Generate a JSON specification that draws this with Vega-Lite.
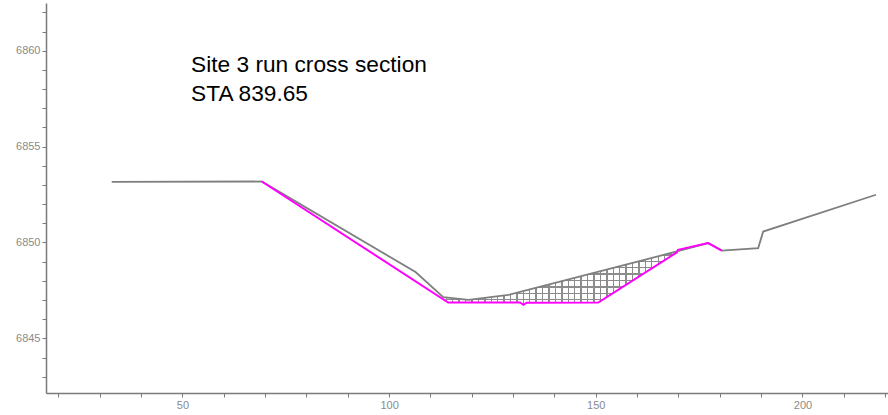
{
  "$schema": "https://vega.github.io/schema/vega-lite/v6.json",
  "width": 842,
  "height": 390,
  "autosize": {"type": "none"},
  "padding": {"left": 46, "top": 3, "right": 0, "bottom": 22},
  "background": "white",
  "config": {
    "view": {"stroke": null},
    "axis": {
      "grid": false,
      "domainColor": "#7a7a7a",
      "domainWidth": 1.5,
      "tickColor": "#7a7a7a",
      "tickWidth": 1,
      "tickSize": 4,
      "labelColor": "#8a8a8a",
      "labelFont": "Liberation Sans",
      "labelFontSize": 11,
      "labelPadding": 2,
      "title": null
    }
  },
  "datasets": {
    "ground": [
      {"station": 32.9, "elev": 6853.16},
      {"station": 69.2, "elev": 6853.18},
      {"station": 106.4, "elev": 6848.46},
      {"station": 113.1, "elev": 6847.15},
      {"station": 119.2, "elev": 6847.01},
      {"station": 128.9, "elev": 6847.27},
      {"station": 169.6, "elev": 6849.53},
      {"station": 177.2, "elev": 6849.97},
      {"station": 180.5, "elev": 6849.58},
      {"station": 189.3, "elev": 6849.71},
      {"station": 190.5, "elev": 6850.57},
      {"station": 217.8, "elev": 6852.49}
    ],
    "design": [
      {"station": 69.2, "elev": 6853.18},
      {"station": 114.3, "elev": 6846.87},
      {"station": 131.7, "elev": 6846.87},
      {"station": 132.5, "elev": 6846.75},
      {"station": 133.3, "elev": 6846.86},
      {"station": 150.6, "elev": 6846.87},
      {"station": 169.6, "elev": 6849.48},
      {"station": 169.9, "elev": 6849.62},
      {"station": 177.2, "elev": 6849.97},
      {"station": 180.5, "elev": 6849.58}
    ],
    "fill": [
      {"i": 1, "station": 113.1, "elev": 6847.15},
      {"i": 2, "station": 119.2, "elev": 6847.01},
      {"i": 3, "station": 128.9, "elev": 6847.27},
      {"i": 4, "station": 169.6, "elev": 6849.53},
      {"i": 5, "station": 169.6, "elev": 6849.48},
      {"i": 6, "station": 150.6, "elev": 6846.87},
      {"i": 7, "station": 133.3, "elev": 6846.86},
      {"i": 8, "station": 132.5, "elev": 6846.75},
      {"i": 9, "station": 131.7, "elev": 6846.87},
      {"i": 10, "station": 114.3, "elev": 6846.87}
    ],
    "label": [
      {"station": 52.1, "elev": 6858.87}
    ]
  },
  "encoding": {
    "x": {
      "field": "station", "type": "quantitative",
      "scale": {"domain": [17.0, 220.7], "nice": false, "zero": false},
      "axis": {
        "values": [20,30,40,50,60,70,80,90,100,110,120,130,140,150,160,170,180,190,200,210,220],
        "format": "d",
        "labelExpr": "datum.value % 50 === 0 ? datum.label : ''",
        "labelOverlap": false,
        "labelFlush": false
      }
    },
    "y": {
      "field": "elev", "type": "quantitative",
      "scale": {"domain": [6842.15, 6862.49], "nice": false, "zero": false},
      "axis": {
        "values": [6843,6844,6845,6846,6847,6848,6849,6850,6851,6852,6853,6854,6855,6856,6857,6858,6859,6860,6861,6862],
        "format": "d",
        "labelExpr": "datum.value % 5 === 0 ? datum.label : ''",
        "labelOverlap": false,
        "labelFlush": false
      }
    }
  },
  "layer": [
    {
      "data": {"name": "fill"},
      "mark": {
        "type": "line",
        "interpolate": "linear-closed",
        "strokeWidth": 0,
        "fill": {
          "gradient": "linear", "x1": 0, "y1": 0, "x2": 1, "y2": 0,
          "stops": [
            {"offset": 0, "color": "rgba(140,140,140,0)"},
            {"offset": 0.01, "color": "rgba(140,140,140,0)"}, {"offset": 0.01, "color": "#8c8c8c"}, {"offset": 0.016, "color": "#8c8c8c"}, {"offset": 0.016, "color": "rgba(140,140,140,0)"},
            {"offset": 0.0375, "color": "rgba(140,140,140,0)"}, {"offset": 0.0375, "color": "#8c8c8c"}, {"offset": 0.0435, "color": "#8c8c8c"}, {"offset": 0.0435, "color": "rgba(140,140,140,0)"},
            {"offset": 0.065, "color": "rgba(140,140,140,0)"}, {"offset": 0.065, "color": "#8c8c8c"}, {"offset": 0.071, "color": "#8c8c8c"}, {"offset": 0.071, "color": "rgba(140,140,140,0)"},
            {"offset": 0.0925, "color": "rgba(140,140,140,0)"}, {"offset": 0.0925, "color": "#8c8c8c"}, {"offset": 0.0985, "color": "#8c8c8c"}, {"offset": 0.0985, "color": "rgba(140,140,140,0)"},
            {"offset": 0.12, "color": "rgba(140,140,140,0)"}, {"offset": 0.12, "color": "#8c8c8c"}, {"offset": 0.126, "color": "#8c8c8c"}, {"offset": 0.126, "color": "rgba(140,140,140,0)"},
            {"offset": 0.1475, "color": "rgba(140,140,140,0)"}, {"offset": 0.1475, "color": "#8c8c8c"}, {"offset": 0.1535, "color": "#8c8c8c"}, {"offset": 0.1535, "color": "rgba(140,140,140,0)"},
            {"offset": 0.175, "color": "rgba(140,140,140,0)"}, {"offset": 0.175, "color": "#8c8c8c"}, {"offset": 0.181, "color": "#8c8c8c"}, {"offset": 0.181, "color": "rgba(140,140,140,0)"},
            {"offset": 0.2025, "color": "rgba(140,140,140,0)"}, {"offset": 0.2025, "color": "#8c8c8c"}, {"offset": 0.2085, "color": "#8c8c8c"}, {"offset": 0.2085, "color": "rgba(140,140,140,0)"},
            {"offset": 0.23, "color": "rgba(140,140,140,0)"}, {"offset": 0.23, "color": "#8c8c8c"}, {"offset": 0.236, "color": "#8c8c8c"}, {"offset": 0.236, "color": "rgba(140,140,140,0)"},
            {"offset": 0.2575, "color": "rgba(140,140,140,0)"}, {"offset": 0.2575, "color": "#8c8c8c"}, {"offset": 0.2635, "color": "#8c8c8c"}, {"offset": 0.2635, "color": "rgba(140,140,140,0)"},
            {"offset": 0.285, "color": "rgba(140,140,140,0)"}, {"offset": 0.285, "color": "#8c8c8c"}, {"offset": 0.291, "color": "#8c8c8c"}, {"offset": 0.291, "color": "rgba(140,140,140,0)"},
            {"offset": 0.3125, "color": "rgba(140,140,140,0)"}, {"offset": 0.3125, "color": "#8c8c8c"}, {"offset": 0.3185, "color": "#8c8c8c"}, {"offset": 0.3185, "color": "rgba(140,140,140,0)"},
            {"offset": 0.34, "color": "rgba(140,140,140,0)"}, {"offset": 0.34, "color": "#8c8c8c"}, {"offset": 0.346, "color": "#8c8c8c"}, {"offset": 0.346, "color": "rgba(140,140,140,0)"},
            {"offset": 0.3675, "color": "rgba(140,140,140,0)"}, {"offset": 0.3675, "color": "#8c8c8c"}, {"offset": 0.3735, "color": "#8c8c8c"}, {"offset": 0.3735, "color": "rgba(140,140,140,0)"},
            {"offset": 0.395, "color": "rgba(140,140,140,0)"}, {"offset": 0.395, "color": "#8c8c8c"}, {"offset": 0.401, "color": "#8c8c8c"}, {"offset": 0.401, "color": "rgba(140,140,140,0)"},
            {"offset": 0.4225, "color": "rgba(140,140,140,0)"}, {"offset": 0.4225, "color": "#8c8c8c"}, {"offset": 0.4285, "color": "#8c8c8c"}, {"offset": 0.4285, "color": "rgba(140,140,140,0)"},
            {"offset": 0.45, "color": "rgba(140,140,140,0)"}, {"offset": 0.45, "color": "#8c8c8c"}, {"offset": 0.456, "color": "#8c8c8c"}, {"offset": 0.456, "color": "rgba(140,140,140,0)"},
            {"offset": 0.4775, "color": "rgba(140,140,140,0)"}, {"offset": 0.4775, "color": "#8c8c8c"}, {"offset": 0.4835, "color": "#8c8c8c"}, {"offset": 0.4835, "color": "rgba(140,140,140,0)"},
            {"offset": 0.505, "color": "rgba(140,140,140,0)"}, {"offset": 0.505, "color": "#8c8c8c"}, {"offset": 0.511, "color": "#8c8c8c"}, {"offset": 0.511, "color": "rgba(140,140,140,0)"},
            {"offset": 0.5325, "color": "rgba(140,140,140,0)"}, {"offset": 0.5325, "color": "#8c8c8c"}, {"offset": 0.5385, "color": "#8c8c8c"}, {"offset": 0.5385, "color": "rgba(140,140,140,0)"},
            {"offset": 0.56, "color": "rgba(140,140,140,0)"}, {"offset": 0.56, "color": "#8c8c8c"}, {"offset": 0.566, "color": "#8c8c8c"}, {"offset": 0.566, "color": "rgba(140,140,140,0)"},
            {"offset": 0.5875, "color": "rgba(140,140,140,0)"}, {"offset": 0.5875, "color": "#8c8c8c"}, {"offset": 0.5935, "color": "#8c8c8c"}, {"offset": 0.5935, "color": "rgba(140,140,140,0)"},
            {"offset": 0.615, "color": "rgba(140,140,140,0)"}, {"offset": 0.615, "color": "#8c8c8c"}, {"offset": 0.621, "color": "#8c8c8c"}, {"offset": 0.621, "color": "rgba(140,140,140,0)"},
            {"offset": 0.6425, "color": "rgba(140,140,140,0)"}, {"offset": 0.6425, "color": "#8c8c8c"}, {"offset": 0.6485, "color": "#8c8c8c"}, {"offset": 0.6485, "color": "rgba(140,140,140,0)"},
            {"offset": 0.67, "color": "rgba(140,140,140,0)"}, {"offset": 0.67, "color": "#8c8c8c"}, {"offset": 0.676, "color": "#8c8c8c"}, {"offset": 0.676, "color": "rgba(140,140,140,0)"},
            {"offset": 0.6975, "color": "rgba(140,140,140,0)"}, {"offset": 0.6975, "color": "#8c8c8c"}, {"offset": 0.7035, "color": "#8c8c8c"}, {"offset": 0.7035, "color": "rgba(140,140,140,0)"},
            {"offset": 0.725, "color": "rgba(140,140,140,0)"}, {"offset": 0.725, "color": "#8c8c8c"}, {"offset": 0.731, "color": "#8c8c8c"}, {"offset": 0.731, "color": "rgba(140,140,140,0)"},
            {"offset": 0.7525, "color": "rgba(140,140,140,0)"}, {"offset": 0.7525, "color": "#8c8c8c"}, {"offset": 0.7585, "color": "#8c8c8c"}, {"offset": 0.7585, "color": "rgba(140,140,140,0)"},
            {"offset": 0.78, "color": "rgba(140,140,140,0)"}, {"offset": 0.78, "color": "#8c8c8c"}, {"offset": 0.786, "color": "#8c8c8c"}, {"offset": 0.786, "color": "rgba(140,140,140,0)"},
            {"offset": 0.8075, "color": "rgba(140,140,140,0)"}, {"offset": 0.8075, "color": "#8c8c8c"}, {"offset": 0.8135, "color": "#8c8c8c"}, {"offset": 0.8135, "color": "rgba(140,140,140,0)"},
            {"offset": 0.835, "color": "rgba(140,140,140,0)"}, {"offset": 0.835, "color": "#8c8c8c"}, {"offset": 0.841, "color": "#8c8c8c"}, {"offset": 0.841, "color": "rgba(140,140,140,0)"},
            {"offset": 0.8625, "color": "rgba(140,140,140,0)"}, {"offset": 0.8625, "color": "#8c8c8c"}, {"offset": 0.8685, "color": "#8c8c8c"}, {"offset": 0.8685, "color": "rgba(140,140,140,0)"},
            {"offset": 0.89, "color": "rgba(140,140,140,0)"}, {"offset": 0.89, "color": "#8c8c8c"}, {"offset": 0.896, "color": "#8c8c8c"}, {"offset": 0.896, "color": "rgba(140,140,140,0)"},
            {"offset": 0.9175, "color": "rgba(140,140,140,0)"}, {"offset": 0.9175, "color": "#8c8c8c"}, {"offset": 0.9235, "color": "#8c8c8c"}, {"offset": 0.9235, "color": "rgba(140,140,140,0)"},
            {"offset": 0.945, "color": "rgba(140,140,140,0)"}, {"offset": 0.945, "color": "#8c8c8c"}, {"offset": 0.951, "color": "#8c8c8c"}, {"offset": 0.951, "color": "rgba(140,140,140,0)"},
            {"offset": 0.9725, "color": "rgba(140,140,140,0)"}, {"offset": 0.9725, "color": "#8c8c8c"}, {"offset": 0.9785, "color": "#8c8c8c"}, {"offset": 0.9785, "color": "rgba(140,140,140,0)"},
            {"offset": 1, "color": "rgba(140,140,140,0)"}
          ]
        }
      },
      "encoding": {"order": {"field": "i", "type": "quantitative"}}
    },
    {
      "data": {"name": "fill"},
      "mark": {
        "type": "line",
        "interpolate": "linear-closed",
        "strokeWidth": 0,
        "fill": {
          "gradient": "linear", "x1": 0, "y1": 0, "x2": 0, "y2": 1,
          "stops": [
            {"offset": 0, "color": "rgba(140,140,140,0)"},
            {"offset": 0.05, "color": "rgba(140,140,140,0)"}, {"offset": 0.05, "color": "#8c8c8c"}, {"offset": 0.076, "color": "#8c8c8c"}, {"offset": 0.076, "color": "rgba(140,140,140,0)"},
            {"offset": 0.17, "color": "rgba(140,140,140,0)"}, {"offset": 0.17, "color": "#8c8c8c"}, {"offset": 0.196, "color": "#8c8c8c"}, {"offset": 0.196, "color": "rgba(140,140,140,0)"},
            {"offset": 0.29, "color": "rgba(140,140,140,0)"}, {"offset": 0.29, "color": "#8c8c8c"}, {"offset": 0.316, "color": "#8c8c8c"}, {"offset": 0.316, "color": "rgba(140,140,140,0)"},
            {"offset": 0.41, "color": "rgba(140,140,140,0)"}, {"offset": 0.41, "color": "#8c8c8c"}, {"offset": 0.436, "color": "#8c8c8c"}, {"offset": 0.436, "color": "rgba(140,140,140,0)"},
            {"offset": 0.53, "color": "rgba(140,140,140,0)"}, {"offset": 0.53, "color": "#8c8c8c"}, {"offset": 0.556, "color": "#8c8c8c"}, {"offset": 0.556, "color": "rgba(140,140,140,0)"},
            {"offset": 0.65, "color": "rgba(140,140,140,0)"}, {"offset": 0.65, "color": "#8c8c8c"}, {"offset": 0.676, "color": "#8c8c8c"}, {"offset": 0.676, "color": "rgba(140,140,140,0)"},
            {"offset": 0.77, "color": "rgba(140,140,140,0)"}, {"offset": 0.77, "color": "#8c8c8c"}, {"offset": 0.796, "color": "#8c8c8c"}, {"offset": 0.796, "color": "rgba(140,140,140,0)"},
            {"offset": 0.89, "color": "rgba(140,140,140,0)"}, {"offset": 0.89, "color": "#8c8c8c"}, {"offset": 0.916, "color": "#8c8c8c"}, {"offset": 0.916, "color": "rgba(140,140,140,0)"},
            {"offset": 1, "color": "rgba(140,140,140,0)"}
          ]
        }
      },
      "encoding": {"order": {"field": "i", "type": "quantitative"}}
    },
    {
      "data": {"name": "ground"},
      "mark": {"type": "line", "color": "#7f7f7f", "strokeWidth": 1.8},
      "encoding": {}
    },
    {
      "data": {"name": "design"},
      "mark": {"type": "line", "color": "#ff00ff", "strokeWidth": 2},
      "encoding": {}
    },
    {
      "data": {"name": "label"},
      "mark": {
        "type": "text",
        "text": ["Site 3 run cross section", "STA 839.65"],
        "align": "left",
        "baseline": "alphabetic",
        "lineHeight": 29,
        "font": "Liberation Sans",
        "fontSize": 22.7,
        "color": "#000000"
      },
      "encoding": {}
    }
  ]
}
